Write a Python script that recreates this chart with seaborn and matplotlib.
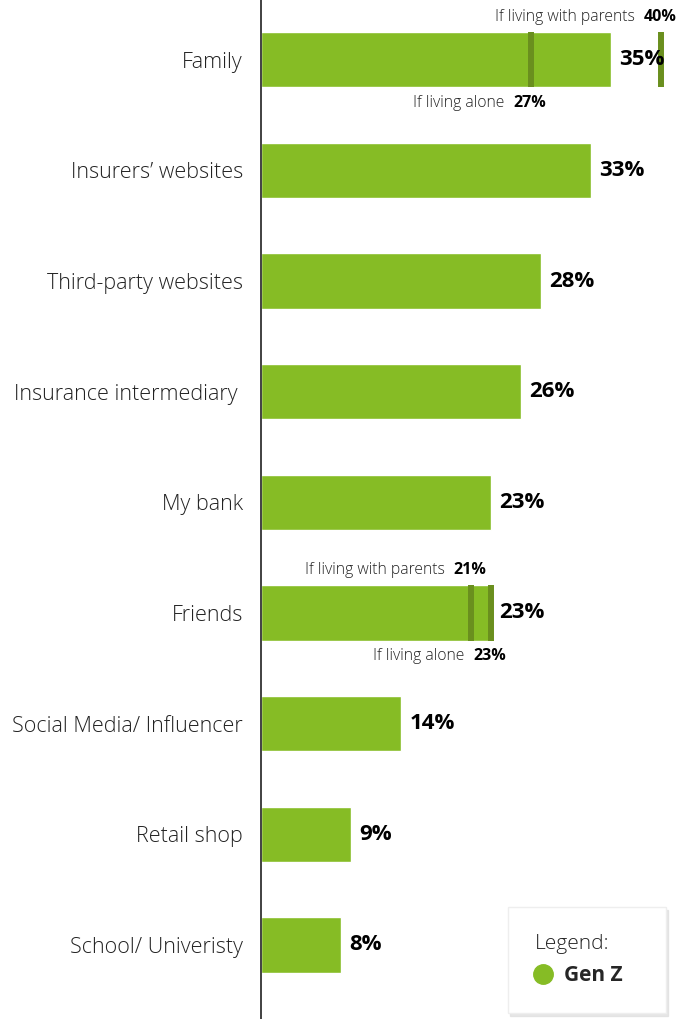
import matplotlib
matplotlib.use("Agg")
import matplotlib.pyplot as plt
from matplotlib.lines import Line2D
import seaborn as sns

# Data
categories = ["Family", "Insurers\u2019 websites", "Third-party websites",
              "Insurance intermediary ", "My bank", "Friends",
              "Social Media/ Influencer", "Retail shop", "School/ Univeristy"]
gen_z = [35, 33, 28, 26, 23, 23, 14, 9, 8]

sub_category = ["Family", "Family", "Friends", "Friends"]
sub_label = ["If living with parents", "If living alone",
             "If living with parents", "If living alone"]
sub_value = [40, 27, 21, 23]
sub_side = ["above", "below", "above", "below"]

GREEN = "#86bc25"
DARK = "#6a8f1e"
TEXT = "#222222"

sns.set_theme(style="white")
plt.rcParams["font.family"] = ["Open Sans", "DejaVu Sans"]

fig = plt.figure(figsize=(6.79, 10.19), dpi=100)
ax = fig.add_axes([261 / 679, 0, (679 - 261) / 679, 1])

sns.barplot(x=gen_z, y=categories, orient="h", color=GREEN, saturation=1,
            width=0.5, ax=ax)

ax.set_xlim(0, 41.8)
ax.set_ylim(8.67, -0.54)
ax.set_xticks([])
ax.set_xlabel("")
ax.set_ylabel("")
for s in ["top", "right", "bottom"]:
    ax.spines[s].set_visible(False)
ax.spines["left"].set_color("#333333")
ax.spines["left"].set_linewidth(1.3)
ax.tick_params(axis="y", length=0, pad=13, labelsize=15.5, labelcolor=TEXT)
for lab in ax.get_yticklabels():
    lab.set_fontweight("light")

patches = ax.patches
# value labels
for p, v in zip(patches, gen_z):
    ax.annotate(f"{v}%", xy=(p.get_width(), p.get_y() + p.get_height() / 2),
                xytext=(6, 0), textcoords="offset points", ha="left", va="center",
                fontsize=16, fontweight="bold", color="black")

# sub-group markers and notes
for cat, lab, val, side in zip(sub_category, sub_label, sub_value, sub_side):
    p = patches[categories.index(cat)]
    y0, y1 = p.get_y(), p.get_y() + p.get_height()
    ax.vlines(val, y0, y1, color=DARK, lw=4.3)
    edge = y0 if side == "above" else y1
    dy = 11 if side == "above" else -11
    ax.annotate(f"{val}%", xy=(val, edge), xytext=(11, dy), textcoords="offset points",
                ha="right", va="center", fontsize=11.5, fontweight="bold", color="black")
    ax.annotate(lab, xy=(val, edge), xytext=(-19, dy), textcoords="offset points",
                ha="right", va="center", fontsize=11.3, fontweight="light", color=TEXT)

# legend box
handle = Line2D([], [], marker="o", color=GREEN, linestyle="", markersize=14)
leg = ax.legend([handle], ["Gen Z   "], title="Legend:", loc="lower right",
                bbox_to_anchor=(0.968, 0.006), borderaxespad=0, alignment="left",
                prop={"weight": "bold", "size": 15}, title_fontsize=15,
                frameon=True, fancybox=False, framealpha=1, edgecolor="#eeeeee",
                shadow={"color": "0.88", "alpha": 0.8}, borderpad=1.3,
                handletextpad=0.6, labelspacing=0.5, handlelength=0.8)
leg.get_title().set_fontweight("light")
leg.get_title().set_color(TEXT)

fig.savefig("out.png", dpi=100)
